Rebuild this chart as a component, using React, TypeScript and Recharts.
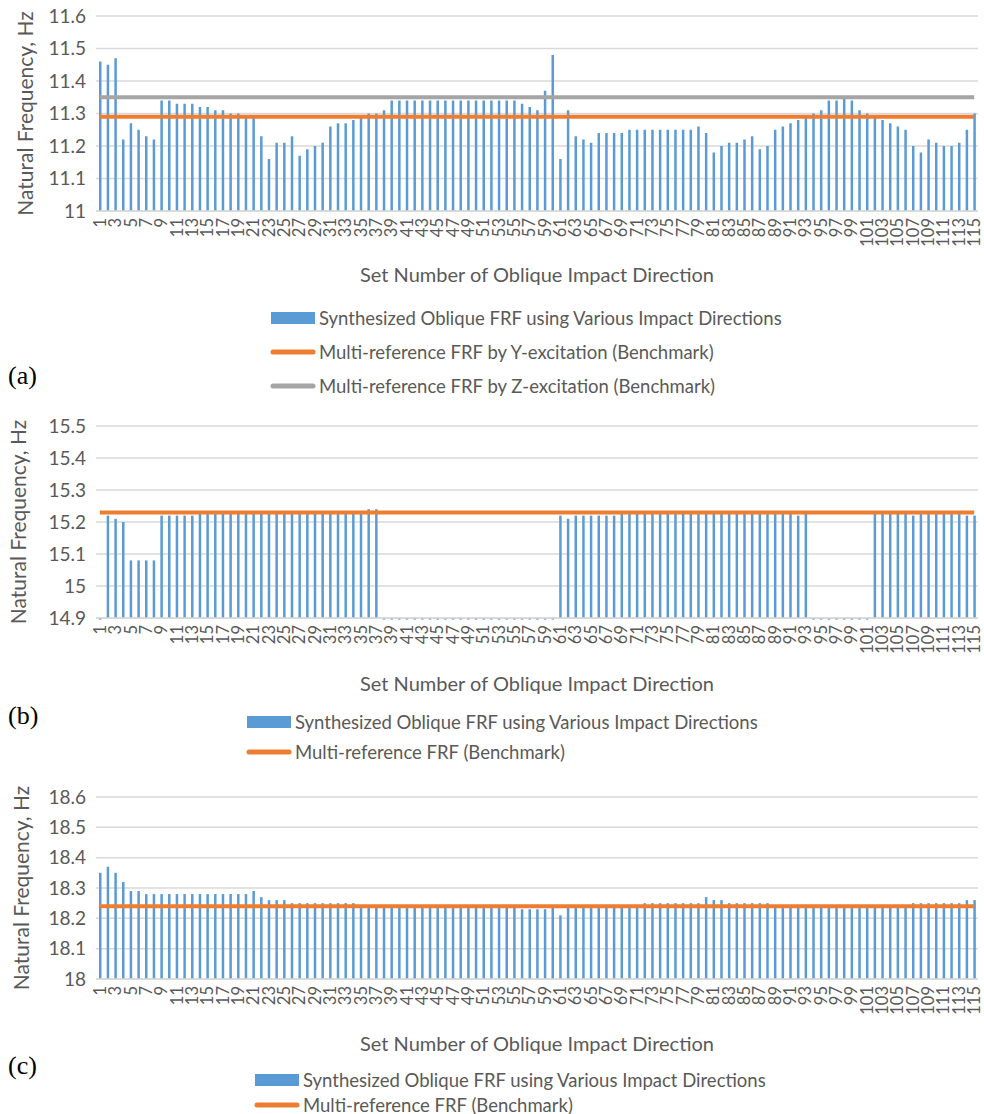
import React from 'react';
import {
  ComposedChart,
  Bar,
  Line,
  XAxis,
  YAxis,
  CartesianGrid,
  Legend,
  Label,
} from 'recharts';

// set numbers of the oblique impact directions
const setNumbers = Array.from({ length: 115 }, (_, i) => i + 1);

// (a) natural frequency from the synthesized oblique FRF, Hz
const freqA = [
  11.46, 11.45, 11.47, 11.22, 11.27, 11.25, 11.23, 11.22, 11.34, 11.34,
  11.33, 11.33, 11.33, 11.32, 11.32, 11.31, 11.31, 11.3, 11.3, 11.29,
  11.29, 11.23, 11.16, 11.21, 11.21, 11.23, 11.17, 11.19, 11.2, 11.21,
  11.26, 11.27, 11.27, 11.28, 11.29, 11.3, 11.3, 11.31, 11.34, 11.34,
  11.34, 11.34, 11.34, 11.34, 11.34, 11.34, 11.34, 11.34, 11.34, 11.34,
  11.34, 11.34, 11.34, 11.34, 11.34, 11.33, 11.32, 11.31, 11.37, 11.48,
  11.16, 11.31, 11.23, 11.22, 11.21, 11.24, 11.24, 11.24, 11.24, 11.25,
  11.25, 11.25, 11.25, 11.25, 11.25, 11.25, 11.25, 11.25, 11.26, 11.24,
  11.18, 11.2, 11.21, 11.21, 11.22, 11.23, 11.19, 11.2, 11.25, 11.26,
  11.27, 11.28, 11.29, 11.3, 11.31, 11.34, 11.34, 11.35, 11.34, 11.31,
  11.3, 11.29, 11.28, 11.27, 11.26, 11.25, 11.2, 11.18, 11.22, 11.21,
  11.2, 11.2, 11.21, 11.25, 11.3,
];
const benchYA = 11.29;
const benchZA = 11.35;

// (b) values of 14.895 sit just under the axis minimum (drawn as stubs)
const freqB = [
  14.895, 15.22, 15.21, 15.2, 15.08, 15.08, 15.08, 15.08, 15.22, 15.22,
  15.22, 15.22, 15.22, 15.23, 15.23, 15.23, 15.23, 15.23, 15.23, 15.23,
  15.23, 15.23, 15.23, 15.23, 15.23, 15.23, 15.23, 15.23, 15.23, 15.23,
  15.23, 15.23, 15.23, 15.23, 15.23, 15.24, 15.24, 14.895, 14.895, 14.895,
  14.895, 14.895, 14.895, 14.895, 14.895, 14.895, 14.895, 14.895, 14.895, 14.895,
  14.895, 14.895, 14.895, 14.895, 14.895, 14.895, 14.895, 14.895, 14.895, 14.895,
  15.22, 15.21, 15.22, 15.22, 15.22, 15.22, 15.22, 15.22, 15.23, 15.23,
  15.23, 15.23, 15.23, 15.23, 15.23, 15.23, 15.23, 15.23, 15.23, 15.23,
  15.23, 15.23, 15.23, 15.23, 15.23, 15.23, 15.23, 15.23, 15.23, 15.23,
  15.23, 15.22, 15.23, 14.895, 14.895, 14.895, 14.895, 14.895, 14.895, 14.895,
  14.895, 15.23, 15.23, 15.23, 15.23, 15.23, 15.22, 15.23, 15.23, 15.23,
  15.23, 15.23, 15.23, 15.22, 15.22,
];
const benchB = 15.23;

// (c)
const freqC = [
  18.35, 18.37, 18.35, 18.32, 18.29, 18.29, 18.28, 18.28, 18.28, 18.28,
  18.28, 18.28, 18.28, 18.28, 18.28, 18.28, 18.28, 18.28, 18.28, 18.28,
  18.29, 18.27, 18.26, 18.26, 18.26, 18.25, 18.25, 18.25, 18.25, 18.25,
  18.25, 18.25, 18.25, 18.25, 18.24, 18.24, 18.24, 18.24, 18.24, 18.24,
  18.24, 18.24, 18.24, 18.24, 18.24, 18.24, 18.24, 18.24, 18.24, 18.24,
  18.24, 18.24, 18.24, 18.24, 18.24, 18.23, 18.23, 18.23, 18.23, 18.24,
  18.21, 18.24, 18.24, 18.24, 18.24, 18.24, 18.24, 18.24, 18.24, 18.24,
  18.24, 18.25, 18.25, 18.25, 18.25, 18.25, 18.25, 18.25, 18.25, 18.27,
  18.26, 18.26, 18.25, 18.25, 18.25, 18.25, 18.25, 18.25, 18.24, 18.24,
  18.24, 18.24, 18.24, 18.24, 18.24, 18.24, 18.24, 18.24, 18.24, 18.24,
  18.24, 18.24, 18.24, 18.24, 18.24, 18.24, 18.25, 18.25, 18.25, 18.25,
  18.25, 18.25, 18.25, 18.26, 18.26,
];
const benchC = 18.24;

const ticksA = [11, 11.1, 11.2, 11.3, 11.4, 11.5, 11.6];
const ticksB = [14.9, 15, 15.1, 15.2, 15.3, 15.4, 15.5];
const ticksC = [18, 18.1, 18.2, 18.3, 18.4, 18.5, 18.6];

const barName = 'Synthesized Oblique FRF using Various Impact Directions';
const xTitle = 'Set Number of Oblique Impact Direction';
const yTitle = 'Natural Frequency, Hz';

const BLUE = '#5b9bd5';
const ORANGE = '#ed7d31';
const GRAY = '#a5a5a5';
const TEXT = '#595959';
const GRID = '#d9d9d9';

const rowsA = setNumbers.map((n, i) => ({ n, freq: freqA[i], benchY: benchYA, benchZ: benchZA }));
const rowsB = setNumbers.map((n, i) => ({ n, freq: freqB[i], bench: benchB }));
const rowsC = setNumbers.map((n, i) => ({ n, freq: freqC[i], bench: benchC }));

function SetTick({ x, y, payload }: any) {
  return (
    <text
      x={x}
      y={y - 1}
      transform={`rotate(-90 ${x} ${y - 1})`}
      textAnchor="end"
      dominantBaseline="central"
      fill={TEXT}
      fontSize={16.5}
    >
      {payload.value}
    </text>
  );
}

const fmt = (v: number) => String(+v.toFixed(1));

function legendContent(rowH: number) {
  return ({ payload }: any) => {
    const items = [...(payload || [])].sort(
      (a: any, b: any) => (a.type === 'rect' ? 0 : 1) - (b.type === 'rect' ? 0 : 1)
    );
    return (
      <div>
        {items.map((p: any) => (
          <div key={p.value} style={{ display: 'flex', alignItems: 'center', height: rowH }}>
            <svg width={46} height={14} style={{ marginRight: 3 }}>
              {p.type === 'rect' ? (
                <rect x={1} y={1} width={44} height={12} fill={p.color} />
              ) : (
                <line x1={3} y1={7} x2={43} y2={7} stroke={p.color} strokeWidth={5} strokeLinecap="round" />
              )}
            </svg>
            <span style={{ fontSize: 18.5, color: TEXT, whiteSpace: 'nowrap' }}>{p.value}</span>
          </div>
        ))}
      </div>
    );
  };
}

interface PanelProps {
  rows: any[];
  ticks: number[];
  height: number;
  top: number;
  bottom: number;
  legendTop: number;
  legendLeft: number;
  rowH: number;
  yLabelX: number;
  titleOffset: number;
  overflow?: boolean;
  children: React.ReactNode;
}

function Panel(p: PanelProps) {
  return (
    <ComposedChart
      width={984}
      height={p.height}
      data={p.rows}
      margin={{ top: p.top, right: 6, bottom: p.bottom, left: 0 }}
    >
      <CartesianGrid vertical={false} stroke={GRID} strokeWidth={1.5} />
      <XAxis
        dataKey="n"
        interval={1}
        tick={<SetTick />}
        tickLine={false}
        axisLine={{ stroke: GRID, strokeWidth: 1.5 }}
        height={52}
      >
        <Label value={xTitle} position="bottom" offset={p.titleOffset} style={{ fill: TEXT, fontSize: 20 }} />
      </XAxis>
      <YAxis
        type="number"
        domain={[p.ticks[0], p.ticks[p.ticks.length - 1]]}
        ticks={p.ticks}
        allowDataOverflow={!!p.overflow}
        tickFormatter={fmt}
        tick={{ fill: TEXT, fontSize: 19 }}
        tickLine={false}
        axisLine={false}
        tickMargin={4}
        width={96}
      >
        <Label
          value={yTitle}
          angle={-90}
          position="insideLeft"
          offset={p.yLabelX}
          style={{ textAnchor: 'middle', fill: TEXT, fontSize: 21 }}
        />
      </YAxis>
      {p.children}
      <Legend
        layout="vertical"
        align="center"
        verticalAlign="middle"
        content={legendContent(p.rowH)}
        wrapperStyle={{ top: p.legendTop, left: p.legendLeft, width: 620 }}
      />
    </ComposedChart>
  );
}

const tag: React.CSSProperties = {
  position: 'absolute',
  left: 8,
  fontFamily: '"Liberation Serif", "DejaVu Serif", serif',
  fontSize: 26,
  color: '#000',
};

export default function App() {
  return (
    <div
      style={{
        position: 'absolute',
        left: 0,
        top: 0,
        width: 984,
        height: 1114,
        background: '#fff',
        fontFamily: 'Lato, "Open Sans", sans-serif',
        overflow: 'hidden',
      }}
    >
      <style>{'.frf-overflow .recharts-bar-rectangles{clip-path:none}'}</style>

      <div style={{ position: 'absolute', left: 0, top: 0 }}>
        <Panel
          rows={rowsA}
          ticks={ticksA}
          height={400}
          top={16}
          bottom={137}
          legendTop={301}
          legendLeft={270}
          rowH={34}
          yLabelX={26}
          titleOffset={5}
        >
          <Bar dataKey="freq" name={barName} fill={BLUE} barSize={2.5} isAnimationActive={false} />
          <Line
            dataKey="benchY"
            name="Multi-reference FRF by Y-excitation (Benchmark)"
            stroke={ORANGE}
            strokeWidth={4}
            dot={false}
            activeDot={false}
            isAnimationActive={false}
          />
          <Line
            dataKey="benchZ"
            name="Multi-reference FRF by Z-excitation (Benchmark)"
            stroke={GRAY}
            strokeWidth={4}
            dot={false}
            activeDot={false}
            isAnimationActive={false}
          />
        </Panel>
      </div>
      <div style={{ ...tag, top: 361 }}>(a)</div>

      <div className="frf-overflow" style={{ position: 'absolute', left: 0, top: 405 }}>
        <Panel
          rows={rowsB}
          ticks={ticksB}
          height={375}
          top={21}
          bottom={110}
          legendTop={302}
          legendLeft={246}
          rowH={30}
          yLabelX={19}
          titleOffset={7}
          overflow
        >
          <Bar dataKey="freq" name={barName} fill={BLUE} barSize={2.5} isAnimationActive={false} />
          <Line
            dataKey="bench"
            name="Multi-reference FRF (Benchmark)"
            stroke={ORANGE}
            strokeWidth={4}
            dot={false}
            activeDot={false}
            isAnimationActive={false}
          />
        </Panel>
      </div>
      <div style={{ ...tag, top: 701 }}>(b)</div>

      <div style={{ position: 'absolute', left: 0, top: 780 }}>
        <Panel
          rows={rowsC}
          ticks={ticksC}
          height={334}
          top={17}
          bottom={83}
          legendTop={287}
          legendLeft={254}
          rowH={25}
          yLabelX={22}
          titleOffset={6}
        >
          <Bar dataKey="freq" name={barName} fill={BLUE} barSize={2.5} isAnimationActive={false} />
          <Line
            dataKey="bench"
            name="Multi-reference FRF (Benchmark)"
            stroke={ORANGE}
            strokeWidth={4}
            dot={false}
            activeDot={false}
            isAnimationActive={false}
          />
        </Panel>
      </div>
      <div style={{ ...tag, top: 1051 }}>(c)</div>
    </div>
  );
}
